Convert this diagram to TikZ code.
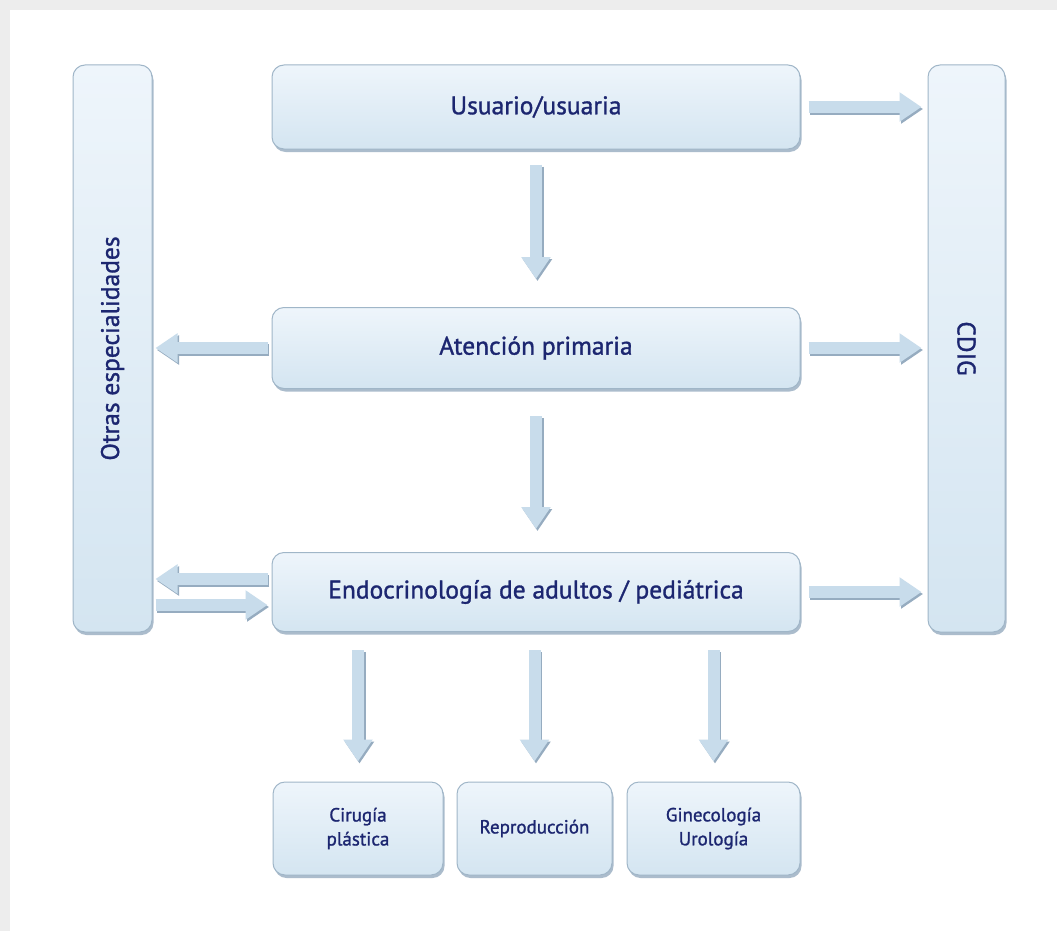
\documentclass[tikz,border=0pt]{standalone}
\usepackage{fontspec}
\newfontfamily\rotulo{PT Sans}[FakeBold=1.2]
\usetikzlibrary{arrows.meta,shadows}

\definecolor{navy}{RGB}{28,38,112}
\definecolor{boxtop}{RGB}{238,245,251}
\definecolor{boxbot}{RGB}{212,229,241}
\definecolor{boxline}{RGB}{160,182,200}
\definecolor{flechaazul}{RGB}{200,220,235}
\definecolor{flechasombra}{RGB}{150,172,192}

\begin{document}
\begin{tikzpicture}[x=1pt,y=-1pt,
	every node/.style={font=\rotulo\fontsize{25.5}{30}\selectfont, text=navy},
	caja/.style={draw=boxline, line width=1pt, rounded corners=12pt, top color=boxtop, bottom color=boxbot,
		drop shadow={shadow xshift=1.5pt, shadow yshift=-3pt, fill=flechasombra, opacity=0.8}},
	cajita/.style={caja, font=\rotulo\fontsize{19}{24}\selectfont, align=center},
	flecha/.style={line width=12pt, draw=flechaazul, -{Triangle[length=22pt,width=28pt]}},
	sombra/.style={line width=12pt, draw=flechasombra, -{Triangle[length=22pt,width=28pt]}}]
	\useasboundingbox (0,0) rectangle (1057,931);
	\fill[gray!14] (0,0) rectangle (1057,931);
	\fill[white] (10,10) rectangle (1057,931);
	% cajas
	\node[caja, minimum width=528pt, minimum height=84pt] (usuario) at (536,107) {Usuario/usuaria};
	\node[caja, minimum width=528pt, minimum height=81pt] (primaria) at (536,348) {Atención primaria};
	\node[caja, minimum width=528pt, minimum height=79pt] (endo) at (536,592) {Endocrinología de adultos / pediátrica};
	\node[caja, minimum width=79pt, minimum height=567pt] (otras) at (112.5,348.5) {};
	\node[rotate=90] at (otras) {Otras especialidades};
	\node[caja, minimum width=77pt, minimum height=567pt] (cdig) at (966.5,348.5) {};
	\node[rotate=-90] at (cdig) {CDIG};
	\node[cajita, minimum width=170pt, minimum height=93pt] (cirugia) at (358,828.5) {Cirugía\\plástica};
	\node[cajita, minimum width=155pt, minimum height=93pt] (repro) at (534.5,828.5) {Reproducción};
	\node[cajita, minimum width=173pt, minimum height=93pt] (gineco) at (713.5,828.5) {Ginecología\\Urología};
	% flechas (sombra debajo, un poco corrida)
	\foreach \s/\dx/\dy in {sombra/1.5/-2, flecha/0/0}{
	\begin{scope}[transform canvas={shift={(\dx pt,\dy pt)}}]
	\foreach \n in {usuario,primaria,endo}
		\draw[\s, shorten <=8pt, shorten >=6pt] (\n.east) -- (\n.east -| cdig.west);
	\draw[\s, shorten <=15pt, shorten >=28pt] (usuario) -- (primaria);
	\draw[\s, shorten <=27pt, shorten >=23pt] (primaria) -- (endo);
	\draw[\s, shorten <=4pt, shorten >=3pt] (primaria.west) -- (primaria.west -| otras.east);
	\draw[\s, shorten <=4pt, shorten >=3pt] ([yshift=13pt]endo.west) -- ([yshift=13pt]endo.west -| otras.east);
	\draw[\s, shorten <=3pt, shorten >=4pt] ([yshift=-13pt]endo.west -| otras.east) -- ([yshift=-13pt]endo.west);
	\foreach \n in {cirugia,repro,gineco}
		\draw[\s, shorten <=18pt, shorten >=20pt] (\n.north |- endo.south) -- (\n.north);
	\end{scope}}
\end{tikzpicture}
\end{document}
